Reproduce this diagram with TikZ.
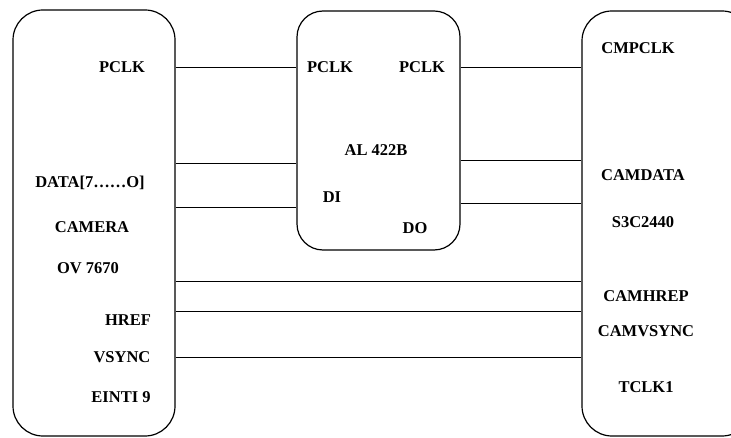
\documentclass[tikz,border=0pt]{standalone}
\usepackage{fontspec}
\setmainfont{Liberation Serif}
\begin{document}
\begin{tikzpicture}[x=1pt,y=-1pt,
  box/.style={draw, line width=1.2pt, rounded corners=30pt, inner sep=0pt},
  lbl/.style={font=\bfseries\fontsize{16.5}{18}\selectfont, inner sep=0pt},
  wire/.style={line width=0.9pt}]
\useasboundingbox (0,0) rectangle (731,438);
\clip (0,0) rectangle (731,438);
\node[box, minimum width=162pt, minimum height=426pt] (L) at (94,223) {};
\node[box, rounded corners=26pt, minimum width=163pt, minimum height=239pt] (M) at (378.5,130.5) {};
\node[box, minimum width=170pt, minimum height=425pt] (R) at (667,223.5) {};
% left labels
\node[lbl] (lpclk) at (122,67) {PCLK};
\node[lbl] (ldata) at (90,183) {DATA[7……O]};
\node[lbl] (lcam) at (92,227) {CAMERA};
\node[lbl] (lov) at (88,268) {OV 7670};
\node[lbl] (lhref) at (128,320) {HREF};
\node[lbl] (lvsync) at (122,357) {VSYNC};
\node[lbl] (leint) at (121,397) {EINTI 9};
% middle labels
\node[lbl] (mpclkl) at (330,67) {PCLK};
\node[lbl] (mpclkr) at (422,67) {PCLK};
\node[lbl] (mal) at (376,150) {AL 422B};
\node[lbl] (mdi) at (332,197) {DI};
\node[lbl] (mdo) at (415,228) {DO};
% right labels
\node[lbl] (rcmp) at (638,48) {CMPCLK};
\node[lbl] (rdata) at (643,175) {CAMDATA};
\node[lbl] (rs3c) at (643,222) {S3C2440};
\node[lbl] (rhrep) at (646,296) {CAMHREP};
\node[lbl] (rvs) at (646,331) {CAMVSYNC};
\node[lbl] (rtclk) at (646,387) {TCLK1};
% coordinates for wire heights
\coordinate (y1) at (0,67);
\coordinate (y2) at (0,163);
\coordinate (y3) at (0,207);
\coordinate (y4) at (0,160);
\coordinate (y5) at (0,203);
\coordinate (y6) at (0,281);
\coordinate (y7) at (0,311);
\coordinate (y8) at (0,357);
% wires
\draw[wire] (L.east |- y1) -- (M.west |- y1);
\draw[wire] (M.east |- y1) -- (R.west |- y1);
\draw[wire] (L.east |- y2) -- (M.west |- y2);
\draw[wire] (L.east |- y3) -- (M.west |- y3);
\draw[wire] (M.east |- y4) -- (R.west |- y4);
\draw[wire] (M.east |- y5) -- (R.west |- y5);
\draw[wire] (L.east |- y6) -- (R.west |- y6);
\draw[wire] (L.east |- y7) -- (R.west |- y7);
\draw[wire] (L.east |- y8) -- (R.west |- y8);
\end{tikzpicture}
\end{document}
